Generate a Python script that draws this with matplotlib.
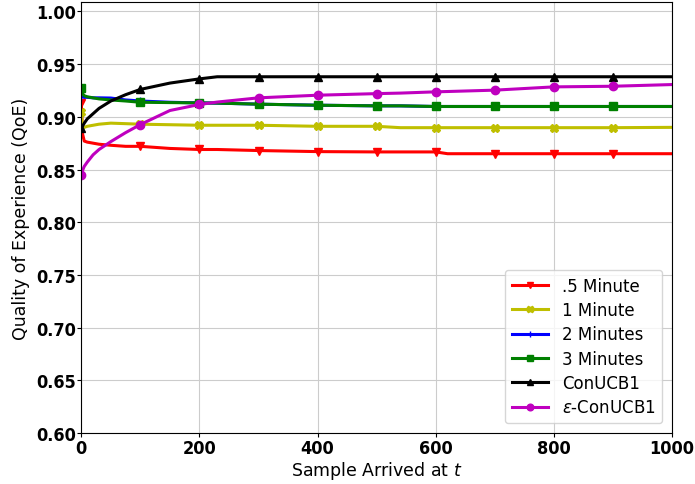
import numpy as np
from matplotlib import pyplot as plt

t = [0, 2, 5, 10, 20, 30, 50, 75, 100, 150, 200, 230, 300, 400, 500,
     540, 600, 620, 700, 800, 900, 1000]

q_half = [0.913, 0.884, 0.877, 0.876, 0.875, 0.874, 0.873, 0.872, 0.872,
          0.870, 0.869, 0.869, 0.868, 0.867, 0.8667, 0.8667, 0.8667, 0.865,
          0.865, 0.865, 0.865, 0.865]
q_one = [0.905, 0.889, 0.890, 0.891, 0.892, 0.893, 0.894, 0.8935, 0.893,
         0.8925, 0.892, 0.892, 0.892, 0.891, 0.891, 0.8897, 0.8897, 0.8897,
         0.8897, 0.8897, 0.8897, 0.890]
q_two = [0.919, 0.919, 0.9185, 0.9185, 0.918, 0.918, 0.9178, 0.916, 0.915,
         0.9138, 0.9132, 0.913, 0.912, 0.911, 0.9104, 0.9104, 0.9098, 0.9098,
         0.9098, 0.9098, 0.9098, 0.9098]
q_three = [0.927, 0.922, 0.920, 0.919, 0.918, 0.917, 0.916, 0.915, 0.9138,
           0.9135, 0.9132, 0.913, 0.912, 0.911, 0.9104, 0.9104, 0.9098,
           0.9098, 0.9098, 0.9098, 0.9098, 0.9098]
q_ucb = [0.889, 0.891, 0.894, 0.898, 0.903, 0.908, 0.915, 0.921, 0.926,
         0.932, 0.936, 0.938, 0.938, 0.938, 0.938, 0.938, 0.938, 0.938,
         0.938, 0.938, 0.938, 0.938]
q_eps = [0.8446, 0.849, 0.853, 0.857, 0.864, 0.869, 0.8765, 0.885, 0.8927,
         0.906, 0.9117, 0.914, 0.918, 0.9205, 0.922, 0.9225, 0.9237, 0.924,
         0.9253, 0.9284, 0.929, 0.9306]

labels = ['.5 Minute', '1 Minute', '2 Minutes', '3 Minutes', 'ConUCB1',
          r'$\varepsilon$-ConUCB1']
colors = ['r', 'y', 'b', 'g', 'k', 'm']
marks = ['v', 'X', '+', 's', '^', 'o']

# markers every 100 samples
mk = [i for i, v in enumerate(t) if v % 100 == 0 and v < 1000]

fig, ax = plt.subplots(figsize=(6.95, 4.85), dpi=100)
for q, lab, c, m in zip([q_half, q_one, q_two, q_three, q_ucb, q_eps],
                        labels, colors, marks):
    ax.plot(t, q, color=c, marker=m, markevery=mk, lw=2.2, ms=6, label=lab)

ax.set_xlim(0, 1000)
ax.set_ylim(0.6, 1.009)
ax.set_yticks(np.arange(0.6, 1.001, 0.05))
ax.grid(color='#cccccc', lw=0.8)
ax.set_xlabel('Sample Arrived at $t$', fontsize=12.5, labelpad=2)
ax.set_ylabel('Quality of Experience (QoE)', fontsize=12.5, labelpad=4)
for lb in ax.get_xticklabels() + ax.get_yticklabels():
    lb.set_fontsize(13)
    lb.set_fontweight('bold')
    lb.set_fontstretch('condensed')
ax.tick_params(length=3, pad=1)
ax.legend(loc='lower right', fontsize=12, handlelength=2.2,
          borderaxespad=0.6, labelspacing=0.38, markerscale=0.8)
fig.subplots_adjust(left=0.117, right=0.967, top=0.994, bottom=0.105)
fig.savefig('out.png')
